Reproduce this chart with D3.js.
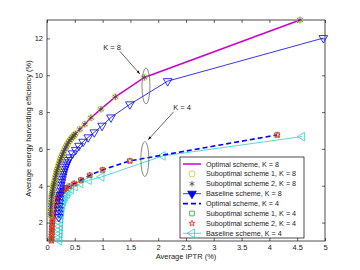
<!DOCTYPE html>
<html>
<head>
<meta charset="utf-8">
<script src="https://cdn.jsdelivr.net/npm/d3@7"></script>
<style>
  body { margin: 0; background: #fff; }
  text { font-family: "Liberation Sans", Arial, sans-serif; }
</style>
</head>
<body>
<div id="chart-area"></div>
<script>
// values
var optK8X = [0.055, 0.06, 0.065, 0.07, 0.075, 0.08, 0.085, 0.09, 0.095, 0.10, 0.107, 0.115, 0.122, 0.13, 0.14, 0.15, 0.16, 0.17, 0.18, 0.19, 0.205, 0.22, 0.235, 0.25, 0.265, 0.28, 0.30, 0.32, 0.34, 0.36, 0.385, 0.41, 0.435, 0.46, 0.485, 0.51, 0.59, 0.68, 0.79, 0.97, 1.23, 1.75, 4.55];
var optK8Y = [2.4, 2.6, 2.8, 2.95, 3.1, 3.25, 3.4, 3.5, 3.6, 3.7, 3.82, 3.95, 4.05, 4.15, 4.3, 4.45, 4.57, 4.7, 4.82, 4.93, 5.08, 5.22, 5.35, 5.48, 5.6, 5.72, 5.85, 5.98, 6.1, 6.22, 6.35, 6.46, 6.56, 6.65, 6.73, 6.82, 7.07, 7.34, 7.69, 8.16, 8.83, 9.88, 13.0];
var sub1K8X = optK8X, sub1K8Y = optK8Y;
var sub2K8X = optK8X, sub2K8Y = optK8Y;

var baseK8X = [0.21, 0.212, 0.215, 0.218, 0.222, 0.226, 0.23, 0.236, 0.243, 0.25, 0.26, 0.27, 0.28, 0.29, 0.30, 0.315, 0.33, 0.345, 0.36, 0.38, 0.41, 0.46, 0.515, 0.575, 0.65, 0.74, 0.85, 0.99, 1.15, 1.49, 2.17, 4.97];
var baseK8Y = [2.3, 2.5, 2.7, 2.9, 3.1, 3.3, 3.5, 3.7, 3.9, 4.05, 4.2, 4.35, 4.5, 4.63, 4.76, 4.9, 5.03, 5.15, 5.27, 5.4, 5.54, 5.76, 5.95, 6.17, 6.39, 6.63, 6.9, 7.26, 7.71, 8.42, 9.68, 12.02];

var optK4X = [0.08, 0.082, 0.084, 0.086, 0.088, 0.09, 0.093, 0.096, 0.10, 0.105, 0.11, 0.117, 0.125, 0.14, 0.16, 0.18, 0.20, 0.225, 0.25, 0.28, 0.31, 0.34, 0.40, 0.49, 0.61, 0.77, 1.0, 1.49, 4.14];
var optK4Y = [1.02, 1.15, 1.3, 1.45, 1.6, 1.75, 1.9, 2.05, 2.2, 2.35, 2.5, 2.62, 2.75, 2.95, 3.12, 3.27, 3.4, 3.52, 3.62, 3.72, 3.8, 3.87, 3.97, 4.12, 4.31, 4.57, 4.86, 5.35, 6.76];
var sub1K4X = optK4X, sub1K4Y = optK4Y;
var sub2K4X = optK4X, sub2K4Y = optK4Y;

var baseK4X = [0.22, 0.222, 0.224, 0.226, 0.229, 0.233, 0.238, 0.245, 0.253, 0.263, 0.275, 0.29, 0.31, 0.33, 0.355, 0.385, 0.43, 0.50, 0.60, 0.75, 0.98, 2.08, 4.59];
var baseK4Y = [1.02, 1.2, 1.4, 1.6, 1.8, 2.0, 2.2, 2.4, 2.6, 2.8, 2.98, 3.15, 3.3, 3.42, 3.54, 3.66, 3.8, 3.95, 4.12, 4.3, 4.48, 5.62, 6.67];

var xTicks = [0, 0.5, 1, 1.5, 2, 2.5, 3, 3.5, 4, 4.5, 5];
var yTicks = [2, 4, 6, 8, 10, 12];

var legendLabels = [
  "Optimal scheme,  K = 8",
  "Suboptimal scheme 1, K = 8",
  "Suboptimal scheme 2, K = 8",
  "Baseline scheme, K = 8",
  "Optimal scheme,  K = 4",
  "Suboptimal scheme 1, K = 4",
  "Suboptimal scheme 2, K = 4",
  "Baseline scheme, K = 4"
];

var margin = { left: 47, right: 35, top: 20, bottom: 29 },
    width = 360 - margin.left - margin.right,
    height = 270 - margin.top - margin.bottom;

var svg = d3.select("#chart-area").append("svg")
    .attr("width", 360)
    .attr("height", 270);

var g = svg.append("g")
    .attr("transform", "translate(" + margin.left + "," + margin.top + ")");

var x = d3.scaleLinear().domain([0, 5]).range([0, width]);
var y = d3.scaleLinear().domain([1, 13]).range([height, 0]);

function zip(xs, ys) { return xs.map(function(v, i) { return [v, ys[i]]; }); }

// axes, ticks inside like matlab box
var tickFmt = function(d) { return d; };
g.append("g").attr("class", "x axis")
    .attr("transform", "translate(0," + height + ")")
    .call(d3.axisBottom(x).tickValues(xTicks).tickFormat(tickFmt).tickSizeInner(-3).tickSizeOuter(0).tickPadding(4));
g.append("g")
    .call(d3.axisTop(x).tickValues(xTicks).tickFormat("").tickSizeInner(-3).tickSizeOuter(0));
g.append("g").attr("class", "y axis")
    .call(d3.axisLeft(y).tickValues(yTicks).tickFormat(tickFmt).tickSizeInner(-3).tickSizeOuter(0).tickPadding(4));
g.append("g")
    .attr("transform", "translate(" + width + ",0)")
    .call(d3.axisRight(y).tickValues(yTicks).tickFormat("").tickSizeInner(-3).tickSizeOuter(0));

g.selectAll(".domain").remove();
g.selectAll(".tick line").attr("stroke", "#000").attr("stroke-width", 0.6);
g.selectAll(".tick text").attr("font-size", "7.5px").attr("fill", "#222")
    .style("font-family", "Liberation Sans, Arial, sans-serif");

g.append("rect")
    .attr("width", width).attr("height", height)
    .attr("fill", "none").attr("stroke", "#000").attr("stroke-width", 0.7);

// axis titles
g.append("text")
    .attr("x", width / 2).attr("y", height + 18)
    .attr("text-anchor", "middle").attr("font-size", "7.5px").attr("fill", "#222")
    .text("Average IPTR (%)");
g.append("text")
    .attr("transform", "rotate(-90)")
    .attr("x", -height / 2 + 2).attr("y", -16)
    .attr("text-anchor", "middle").attr("font-size", "7.5px").attr("fill", "#222")
    .text("Average energy harvesting efficiency (%)");

var line = d3.line()
    .x(function(d) { return x(d[0]); })
    .y(function(d) { return y(d[1]); });

var plot = g.append("g");

function drawLine(pts, color, w, dash) {
    plot.append("path")
        .attr("d", line(pts))
        .attr("fill", "none")
        .attr("stroke", color)
        .attr("stroke-width", w)
        .attr("stroke-dasharray", dash || null);
}

function drawMarkers(pts, type, size, color, rot) {
    var sym = d3.symbol().type(type).size(size);
    plot.append("g").selectAll("path")
        .data(pts)
        .enter().append("path")
        .attr("d", sym)
        .attr("transform", function(d) {
            return "translate(" + x(d[0]) + "," + y(d[1]) + ")" + (rot ? " rotate(" + rot + ")" : "");
        })
        .attr("fill", "none")
        .attr("stroke", color)
        .attr("stroke-width", 0.8);
}

// series styles
var cMag = "#cc00cc", cOlive = "#c8c832", cGray = "#444", cBlue = "#0000ff",
    cGreen = "#3a9a3a", cRed = "#ff2020", cCyan = "#33cccc";

// K = 4 first
drawLine(zip(baseK4X, baseK4Y), cCyan, 0.8);
drawMarkers(zip(baseK4X, baseK4Y), d3.symbolTriangle, 32, cCyan, -90);
drawLine(zip(optK4X, optK4Y), cBlue, 1.6, "5,3");
drawMarkers(zip(sub1K4X, sub1K4Y), d3.symbolSquare, 22, cGreen);
drawMarkers(zip(sub2K4X, sub2K4Y), d3.symbolStar, 11, cRed);

// K = 8
drawLine(zip(baseK8X, baseK8Y), cBlue, 0.8);
drawMarkers(zip(baseK8X, baseK8Y), d3.symbolTriangle, 32, cBlue, 180);
drawLine(zip(optK8X, optK8Y), cMag, 1.5);
drawMarkers(zip(sub1K8X, sub1K8Y), d3.symbolCircle, 30, cOlive);
drawMarkers(zip(sub2K8X, sub2K8Y), d3.symbolAsterisk, 22, cGray);

// annotations
svg.append("defs").append("marker")
    .attr("id", "arrow").attr("viewBox", "0 0 10 10")
    .attr("refX", 10).attr("refY", 5)
    .attr("markerWidth", 6).attr("markerHeight", 6)
    .attr("orient", "auto")
  .append("path").attr("d", "M0,1.5L10,5L0,8.5z").attr("fill", "#000");

var notes = [
  { label: "K = 8", tx: 1.17, ty: 11.5, x1: 1.31, y1: 11.3, x2: 1.67, y2: 10.07, ex: 1.78, ey: 9.42, ery: 0.98 },
  { label: "K = 4", tx: 2.43, ty: 8.28, x1: 2.28, y1: 8.02, x2: 1.82, y2: 6.5, ex: 1.76, ey: 5.45, ery: 0.95 }
];
notes.forEach(function(n) {
    g.append("ellipse")
        .attr("cx", x(n.ex)).attr("cy", y(n.ey))
        .attr("rx", 4).attr("ry", y(n.ey - n.ery) - y(n.ey))
        .attr("fill", "none").attr("stroke", "#555").attr("stroke-width", 0.7);
    g.append("line")
        .attr("x1", x(n.x1)).attr("y1", y(n.y1))
        .attr("x2", x(n.x2)).attr("y2", y(n.y2))
        .attr("stroke", "#000").attr("stroke-width", 0.6)
        .attr("marker-end", "url(#arrow)");
    g.append("text")
        .attr("x", x(n.tx)).attr("y", y(n.ty)).attr("dy", "0.35em")
        .attr("text-anchor", "middle").attr("font-size", "7.5px").attr("fill", "#222")
        .text(n.label);
});

// legend
var leg = svg.append("g").attr("transform", "translate(180,157)");
leg.append("rect")
    .attr("width", 124).attr("height", 81)
    .attr("fill", "#fff").attr("stroke", "#000").attr("stroke-width", 0.7);

var legStyles = [
  { color: cMag, w: 1.5, line: true },
  { color: cOlive, sym: d3.symbolCircle, size: 30 },
  { color: cGray, sym: d3.symbolAsterisk, size: 22 },
  { color: cBlue, w: 0.8, line: true, sym: d3.symbolTriangle, size: 32, rot: 180, fill: true },
  { color: cBlue, w: 1.6, line: true, dash: "5,3" },
  { color: cGreen, sym: d3.symbolSquare, size: 22 },
  { color: cRed, sym: d3.symbolStar, size: 11 },
  { color: cCyan, w: 0.8, line: true, sym: d3.symbolTriangle, size: 32, rot: -90 }
];

legendLabels.forEach(function(lbl, i) {
    var s = legStyles[i];
    var row = leg.append("g").attr("transform", "translate(0," + (7 + i * 9.9) + ")");
    if (s.line) {
        row.append("line")
            .attr("x1", 3).attr("x2", 21)
            .attr("stroke", s.color).attr("stroke-width", s.w)
            .attr("stroke-dasharray", s.dash || null);
    }
    if (s.sym) {
        row.append("path")
            .attr("d", d3.symbol().type(s.sym).size(s.size))
            .attr("transform", "translate(12,0)" + (s.rot ? " rotate(" + s.rot + ")" : ""))
            .attr("fill", s.fill ? s.color : "none")
            .attr("stroke", s.color).attr("stroke-width", 0.8);
    }
    row.append("text")
        .attr("x", 26).attr("dy", "0.35em")
        .attr("font-size", "7.2px").attr("fill", "#222")
        .text(lbl);
});
</script>
</body>
</html>
